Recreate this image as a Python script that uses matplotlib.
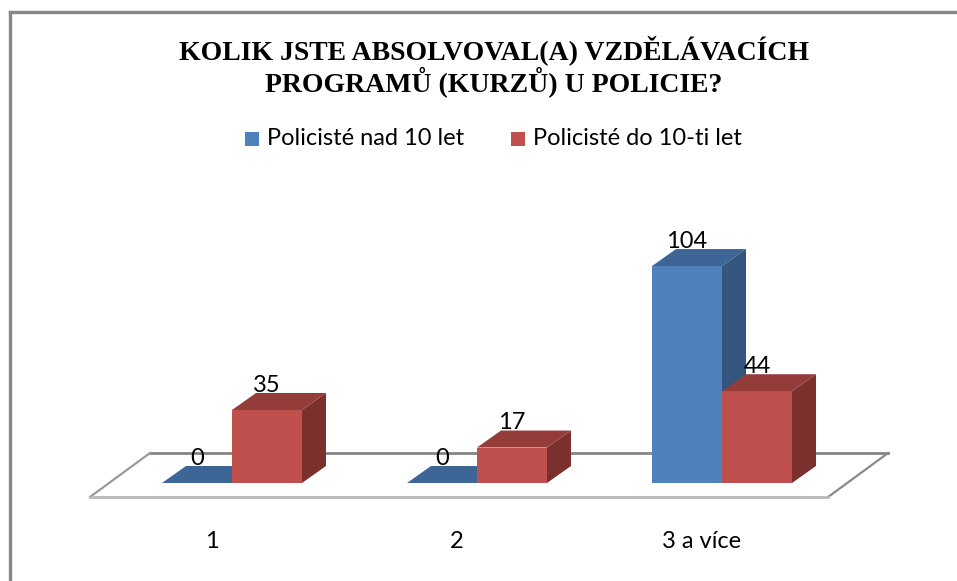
import matplotlib
matplotlib.use("Agg")
import matplotlib.pyplot as plt
from matplotlib.patches import Polygon, Rectangle
from matplotlib.lines import Line2D

# data
categories = ["1", "2", "3 a více"]
series_names = ["Policisté nad 10 let", "Policisté do 10-ti let"]
nad_10 = [0, 0, 104]
do_10 = [35, 17, 44]

# colours (front, top, side)
blue = ("#4F81BD", "#3D6596", "#33557E")
red = ("#C0504D", "#933C3A", "#7B302E")

W, H = 957, 581
fig = plt.figure(figsize=(W / 100, H / 100), dpi=100)
fig.patch.set_facecolor("white")

# axes over whole figure, scaled so the plot sits where it does in the original
px_per_cat = 245.0
px_per_val = 2.086
x_origin = 232.0          # pixel x of first group centre
y_origin = H - 483.0      # pixel y (from bottom) of bar base
ax = fig.add_axes([0, 0, 1, 1])
ax.set_xlim(-x_origin / px_per_cat, (W - x_origin) / px_per_cat)
ax.set_ylim(-y_origin / px_per_val, (H - y_origin) / px_per_val)
ax.axis("off")

bar_w = 70 / px_per_cat
dx = 24 / px_per_cat
dy = 17 / px_per_val
n = len(categories)
label_fs = 17

# floor
f_front = -14 / px_per_val
f_back = 30 / px_per_val
fl_l = -142 / px_per_cat
fl_r = (n - 1) + 0.433
f_dx = 60 / px_per_cat
ax.add_patch(Polygon([(fl_l, f_front), (fl_r, f_front), (fl_r + f_dx, f_back),
                      (fl_l + f_dx, f_back)], closed=True, fc="white", ec="none", zorder=1))
ax.plot([fl_l + f_dx, fl_r + f_dx], [f_back, f_back], color="#858585", lw=2, zorder=2)
ax.plot([fl_l, fl_l + f_dx], [f_front, f_back], color="#999999", lw=1.6, zorder=2)
ax.plot([fl_r, fl_r + f_dx], [f_front, f_back], color="#8a8a8a", lw=1.6, zorder=2)
ax.plot([fl_l, fl_r], [f_front, f_front], color="#b8b8b8", lw=2, zorder=2)


def draw_bar(x0, v, cols, z):
    x1 = x0 + bar_w
    if v > 0:
        ax.bar(x0, v, width=bar_w, align="edge", color=cols[0], zorder=z, lw=0)
        ax.add_patch(Polygon([(x1, 0), (x1 + dx, dy), (x1 + dx, v + dy), (x1, v)],
                             closed=True, fc=cols[2], ec="none", zorder=z))
    ax.add_patch(Polygon([(x0, v), (x1, v), (x1 + dx, v + dy), (x0 + dx, v + dy)],
                         closed=True, fc=cols[1], ec="none", zorder=z))
    ax.text(x0 + bar_w / 2, v + dy + 0.5, str(v), ha="center", va="baseline",
            fontsize=label_fs, family="Lato", color="black", zorder=z + 1)


for i in range(n):
    draw_bar(i - bar_w, nad_10[i], blue, 3 + 2 * i)
    draw_bar(i, do_10[i], red, 4 + 2 * i)
    ax.text(i - 20 / px_per_cat, -58 / px_per_val, categories[i], ha="center",
            va="center", fontsize=label_fs, family="Lato")

# frame (only left and top edges are visible)
fig.add_artist(Line2D([10 / W, 10 / W], [0, 1 - 12 / H], transform=fig.transFigure,
                      color="#888888", lw=2.4))
fig.add_artist(Line2D([10 / W, 1], [1 - 12 / H, 1 - 12 / H], transform=fig.transFigure,
                      color="#888888", lw=2.4, solid_capstyle="projecting"))

# title
fig.text(494 / W, 1 - 50 / H, "KOLIK JSTE ABSOLVOVAL(A) VZDĚLÁVACÍCH",
         ha="center", va="center", fontsize=20, family="Liberation Serif", weight="bold")
fig.text(494 / W, 1 - 82 / H, "PROGRAMŮ (KURZŮ) U POLICIE?",
         ha="center", va="center", fontsize=20, family="Liberation Serif", weight="bold")

# legend
for sx, tx, name, c in [(245, 267, series_names[0], blue[0]), (511, 533, series_names[1], red[0])]:
    fig.add_artist(Rectangle((sx / W, 1 - 146 / H), 14 / W, 14 / H, transform=fig.transFigure,
                             fc=c, ec="none"))
    fig.text(tx / W, 1 - 145 / H, name, ha="left", va="baseline", fontsize=label_fs, family="Lato")

fig.savefig("out.png", dpi=100)
